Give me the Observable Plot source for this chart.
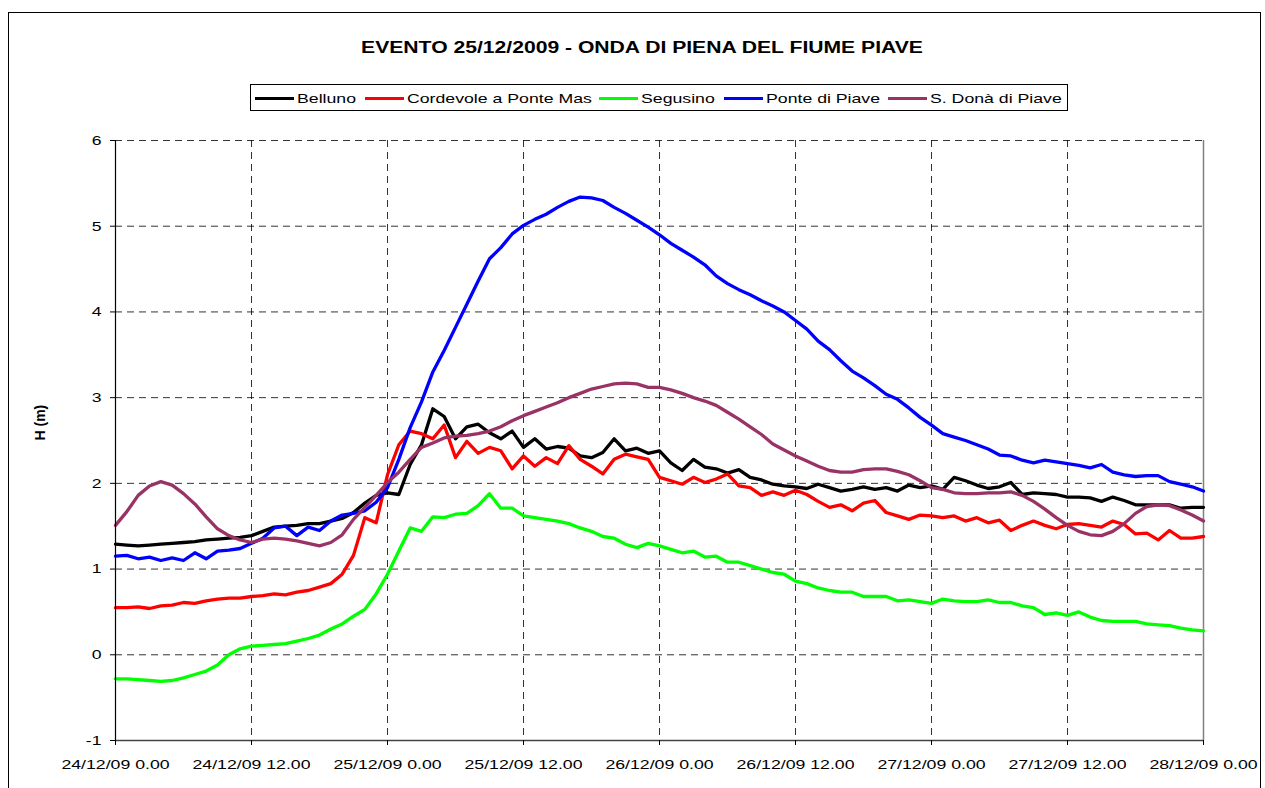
<!DOCTYPE html>
<html>
<head>
<meta charset="utf-8">
<script src="https://cdn.jsdelivr.net/npm/d3@7"></script>
<script src="https://cdn.jsdelivr.net/npm/@observablehq/plot@0.6"></script>
<style>
  html, body { margin: 0; padding: 0; background: #fff; }
  #wrap { position: relative; width: 1265px; height: 788px; overflow: hidden; font-family: "Liberation Sans", Arial, sans-serif; color: #000; }
  #frame { position: absolute; left: 8px; top: 12px; width: 1253px; height: 800px; border: 1px solid #000; box-sizing: border-box; }
  .stretch { position: absolute; white-space: nowrap; line-height: 1; display: inline-block; transform-origin: left center; }
  #title { font-weight: bold; font-size: 16px; top: 40px; left: 642px; transform-origin: center center; }
  #legend { position: absolute; left: 250px; top: 84px; width: 818px; height: 27px; border: 1px solid #000; box-sizing: border-box; background: #fff; }
  .swatch { position: absolute; height: 3px; top: 97px; }
  .ltext { font-size: 13.5px; top: 92px; }
  #chart { position: absolute; left: 0; top: 120px; }
</style>
</head>
<body>
<div id="wrap">
  <div id="frame"></div>
  <div id="legend"></div>
  <div id="chart"></div>
</div>
<script>
// ---- data (hourly water levels, m) ----
const startTime = "2009-12-24T00:00:00Z";
const endTime = "2009-12-28T00:00:00Z";
const titleText = "EVENTO 25/12/2009 - ONDA DI PIENA DEL FIUME PIAVE";
const yAxisLabel = "H (m)";
const seriesNames = ["Belluno", "Cordevole a Ponte Mas", "Segusino", "Ponte di Piave", "S. Donà di Piave"];
const seriesColors = ["#000000", "#FF0000", "#00FF00", "#0000FF", "#993366"];
const yTicks = [-1, 0, 1, 2, 3, 4, 5, 6];

const belluno = [
  1.29,1.28,1.27,1.28,1.29,1.30,1.31,1.32,1.34,1.35,
  1.36,1.37,1.39,1.44,1.49,1.50,1.51,1.53,1.53,1.56,
  1.59,1.66,1.77,1.86,1.89,1.87,2.22,2.45,2.87,2.78,
  2.52,2.66,2.69,2.59,2.52,2.61,2.42,2.52,2.40,2.43,
  2.41,2.32,2.30,2.36,2.52,2.38,2.41,2.35,2.38,2.24,
  2.15,2.28,2.19,2.17,2.12,2.16,2.07,2.04,1.99,1.97,
  1.96,1.94,1.99,1.95,1.91,1.93,1.96,1.93,1.95,1.91,
  1.98,1.95,1.97,1.93,2.07,2.03,1.98,1.94,1.96,2.01,
  1.87,1.89,1.88,1.87,1.84,1.84,1.83,1.79,1.84,1.80,
  1.75,1.75,1.75,1.75,1.71,1.72,1.72
];
const cordevole = [
  0.55,0.55,0.56,0.54,0.57,0.58,0.61,0.60,0.63,0.65,
  0.66,0.66,0.68,0.69,0.71,0.70,0.73,0.75,0.79,0.83,
  0.94,1.16,1.60,1.54,2.10,2.45,2.61,2.58,2.52,2.68,
  2.30,2.49,2.35,2.42,2.38,2.17,2.32,2.20,2.30,2.23,
  2.44,2.28,2.20,2.11,2.28,2.34,2.31,2.28,2.07,2.03,
  1.99,2.07,2.01,2.05,2.11,1.97,1.95,1.86,1.90,1.86,
  1.92,1.87,1.79,1.72,1.75,1.68,1.77,1.80,1.66,1.62,
  1.58,1.63,1.62,1.60,1.62,1.56,1.60,1.54,1.57,1.45,
  1.51,1.56,1.51,1.47,1.52,1.53,1.51,1.49,1.56,1.52,
  1.41,1.42,1.34,1.45,1.36,1.36,1.38
];
const segusino = [
  -0.28,-0.28,-0.29,-0.30,-0.31,-0.30,-0.27,-0.23,-0.19,-0.12,
  0.00,0.07,0.10,0.11,0.12,0.13,0.16,0.19,0.23,0.30,
  0.36,0.45,0.53,0.71,0.94,1.21,1.48,1.44,1.61,1.60,
  1.64,1.65,1.74,1.88,1.71,1.71,1.62,1.60,1.58,1.56,
  1.53,1.48,1.44,1.38,1.36,1.29,1.25,1.30,1.27,1.23,
  1.19,1.21,1.14,1.15,1.08,1.08,1.04,1.00,0.96,0.94,
  0.86,0.83,0.78,0.75,0.73,0.73,0.68,0.68,0.68,0.63,
  0.64,0.62,0.60,0.65,0.63,0.62,0.62,0.64,0.61,0.61,
  0.57,0.55,0.47,0.49,0.46,0.50,0.44,0.40,0.39,0.39,
  0.39,0.36,0.35,0.34,0.31,0.29,0.28
];
const ponteDiPiave = [
  1.15,1.16,1.12,1.14,1.10,1.13,1.10,1.19,1.12,1.21,
  1.22,1.24,1.30,1.36,1.48,1.50,1.39,1.49,1.45,1.56,
  1.63,1.65,1.68,1.78,1.95,2.28,2.65,2.95,3.30,3.55,
  3.82,4.09,4.36,4.62,4.75,4.91,5.01,5.08,5.14,5.22,
  5.29,5.34,5.33,5.30,5.22,5.15,5.07,4.99,4.90,4.80,
  4.72,4.64,4.55,4.42,4.33,4.26,4.20,4.13,4.07,4.00,
  3.90,3.80,3.66,3.56,3.43,3.31,3.23,3.14,3.04,2.98,
  2.88,2.77,2.68,2.58,2.54,2.50,2.45,2.40,2.33,2.32,
  2.27,2.24,2.27,2.25,2.23,2.21,2.18,2.22,2.13,2.10,
  2.08,2.09,2.09,2.02,1.99,1.96,1.91
];
const sDonaDiPiave = [
  1.51,1.67,1.86,1.97,2.02,1.98,1.88,1.76,1.61,1.47,
  1.39,1.34,1.31,1.35,1.36,1.35,1.33,1.30,1.27,1.31,
  1.40,1.58,1.72,1.86,2.01,2.13,2.28,2.42,2.47,2.53,
  2.55,2.56,2.58,2.61,2.66,2.73,2.79,2.84,2.89,2.94,
  3.00,3.05,3.10,3.13,3.16,3.17,3.16,3.12,3.12,3.09,
  3.05,3.00,2.96,2.91,2.83,2.75,2.66,2.57,2.46,2.39,
  2.32,2.26,2.20,2.15,2.13,2.13,2.16,2.17,2.17,2.14,
  2.10,2.03,1.95,1.93,1.89,1.88,1.88,1.89,1.89,1.90,
  1.86,1.79,1.70,1.60,1.51,1.44,1.40,1.39,1.44,1.53,
  1.65,1.73,1.75,1.74,1.69,1.63,1.56
];

// ---- build table ----
const seriesValues = [belluno, cordevole, segusino, ponteDiPiave, sDonaDiPiave];
const t0 = new Date(startTime), t1 = new Date(endTime);
const times = d3.utcHour.range(t0, d3.utcHour.offset(t1, 1));
const rows = seriesNames.flatMap((name, s) => seriesValues[s].map((v, i) => ({t: times[i], v, name})));
const xTicks = d3.utcHour.every(12).range(t0, d3.utcHour.offset(t1, 1));
const fmtX = d => `${d.getUTCDate()}/${d.getUTCMonth() + 1}/${String(d.getUTCFullYear()).slice(2)} ${d.getUTCHours()}.00`;
const STRETCH = 1.34;

// ---- title & legend (HTML) ----
const wrap = document.getElementById("wrap");
const title = document.createElement("span");
title.id = "title"; title.className = "stretch"; title.textContent = titleText;
title.style.transform = `translateX(-50%) scaleX(1.32)`;
wrap.appendChild(title);

const legendSwatchX = [255, 365, 599, 724, 888];
seriesNames.forEach((name, i) => {
  const sw = document.createElement("div");
  sw.className = "swatch";
  sw.style.left = legendSwatchX[i] + "px";
  sw.style.width = "39px";
  sw.style.background = seriesColors[i];
  wrap.appendChild(sw);
  const tx = document.createElement("span");
  tx.className = "stretch ltext";
  tx.style.left = (legendSwatchX[i] + 42) + "px";
  tx.style.transform = `scaleX(1.31)`;
  tx.textContent = name;
  wrap.appendChild(tx);
});

// ---- chart ----
const grid = {stroke: "#000", strokeOpacity: 0.8, strokeDasharray: "7,5", strokeWidth: 1};
const svg = Plot.plot({
  width: 1265, height: 668,
  marginLeft: 115, marginRight: 62, marginTop: 20, marginBottom: 48,
  style: {fontFamily: "'Liberation Sans', Arial, sans-serif", fontSize: "13.5px", color: "#000", background: "transparent", overflow: "visible"},
  x: {type: "utc", domain: [t0, t1]},
  y: {domain: [-1, 6]},
  color: {domain: seriesNames, range: seriesColors},
  marks: [
    Plot.gridY(yTicks.filter(v => v > -1), grid),
    Plot.gridX(xTicks.slice(1, -1), grid),
    Plot.ruleX([t1], {stroke: "#808080", strokeWidth: 1.5}),
    Plot.line(rows, {x: "t", y: "v", z: "name", stroke: "name", strokeWidth: 3.3, strokeLinejoin: "round", strokeLinecap: "round"}),
    Plot.ruleY([-1], {stroke: "#444", strokeWidth: 1.5}),
    Plot.ruleX([t0], {stroke: "#000", strokeWidth: 1.2}),
    Plot.axisX(xTicks, {tickSize: 5, tickPadding: 14, tickFormat: fmtX, fontSize: 13.5, label: null, stroke: "#000"}),
    Plot.axisY(yTicks, {tickSize: 5, tickPadding: 9, tickFormat: d => String(d), fontSize: 13.5, label: null, stroke: "#000"}),
    Plot.text([yAxisLabel], {frameAnchor: "left", dx: -75, rotate: -90, fontWeight: "bold", fontSize: 14})
  ]
});
document.getElementById("chart").appendChild(svg);

// widen axis tick labels like the stretched original
svg.querySelectorAll('g[aria-label$="tick label"] text').forEach(t => {
  const L = t.getComputedTextLength();
  t.setAttribute("textLength", (L * 1.31).toFixed(1));
  t.setAttribute("lengthAdjust", "spacingAndGlyphs");
});
</script>
</body>
</html>
